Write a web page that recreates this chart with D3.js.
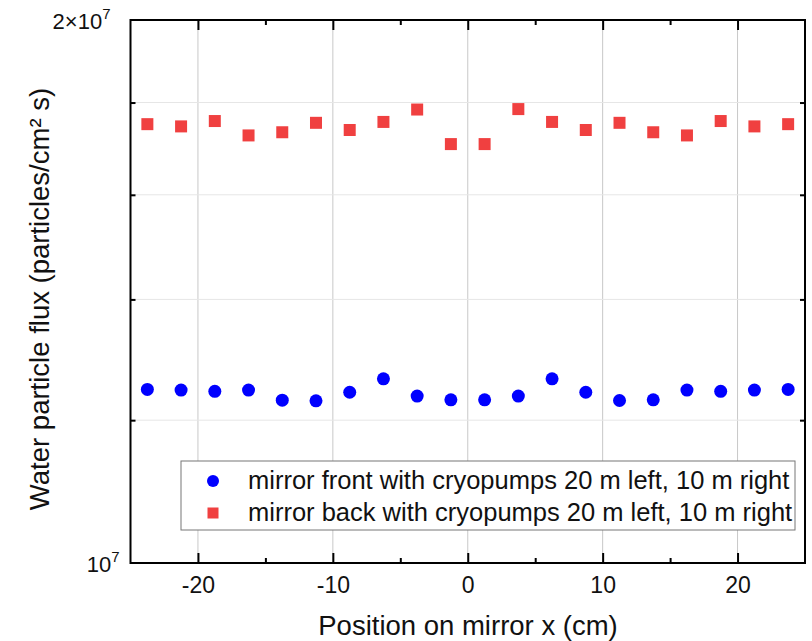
<!DOCTYPE html>
<html><head><meta charset="utf-8">
<script src="https://cdn.jsdelivr.net/npm/d3@7"></script>
<style>body{margin:0;background:#fff}svg{display:block;font-family:"Liberation Sans",Arial,sans-serif}</style>
</head><body>
<svg id="c" width="812" height="641"></svg>
<script>
const positions = [-23.75,-21.25,-18.75,-16.25,-13.75,-11.25,-8.75,-6.25,-3.75,-1.25,1.25,3.75,6.25,8.75,11.25,13.75,16.25,18.75,21.25,23.75];
const frontFlux = [1.248e7,1.247e7,1.245e7,1.247e7,1.231e7,1.230e7,1.2435e7,1.265e7,1.2375e7,1.2315e7,1.2315e7,1.2375e7,1.265e7,1.2435e7,1.2305e7,1.2315e7,1.247e7,1.245e7,1.247e7,1.248e7];
const backFlux = [1.751e7,1.746e7,1.758e7,1.726e7,1.733e7,1.754e7,1.738e7,1.756e7,1.784e7,1.707e7,1.707e7,1.785e7,1.756e7,1.738e7,1.754e7,1.733e7,1.726e7,1.758e7,1.746e7,1.751e7];
const xMajorTicks = [-20,-10,0,10,20];
const xMinorTicks = [-15,-5,5,15];
const yGridTicks = [1.2e7,1.4e7,1.6e7,1.8e7];
const yLabelTicks = [2e7,1e7];
const yLabelMantissa = ["2×10","10"];
const legendLabels = ["mirror front with cryopumps 20 m left, 10 m right","mirror back with cryopumps 20 m left, 10 m right"];
const xTitle = "Position on mirror x (cm)";
const yTitle = "Water particle flux (particles/cm² s)";

const svg = d3.select("#c");
const L=130.5, R=805, T=20, B=563;
const x = d3.scaleLinear().domain([-25,25]).range([L,R]);
const y = d3.scaleLog().domain([1e7,2e7]).range([B,T]);

// grid
svg.append("g").selectAll("line").data(xMajorTicks).join("line")
  .attr("x1",d=>x(d)).attr("x2",d=>x(d)).attr("y1",T).attr("y2",B)
  .attr("stroke","#c8c8c8").attr("stroke-width",1);
svg.append("g").selectAll("line").data(yGridTicks).join("line")
  .attr("x1",L).attr("x2",R).attr("y1",d=>y(d)).attr("y2",d=>y(d))
  .attr("stroke","#e6e6e6").attr("stroke-width",1);

// axes
const axB = svg.append("g").attr("transform",`translate(0,${B})`)
  .call(d3.axisBottom(x).tickValues(xMajorTicks).tickSize(-10).tickPadding(14).tickFormat(d=>d<0?"-"+Math.abs(d):d));
axB.selectAll("text").attr("font-size",23).attr("fill","#111").attr("dy","0.71em").attr("font-family","Liberation Sans, Arial, sans-serif");
const axBm = svg.append("g").attr("transform",`translate(0,${B})`)
  .call(d3.axisBottom(x).tickValues(xMinorTicks).tickSize(-5).tickFormat(""));
const axT = svg.append("g").attr("transform",`translate(0,${T})`)
  .call(d3.axisTop(x).tickValues(xMajorTicks).tickSize(-10).tickFormat(""));
const axTm = svg.append("g").attr("transform",`translate(0,${T})`)
  .call(d3.axisTop(x).tickValues(xMinorTicks).tickSize(-5).tickFormat(""));
const axL = svg.append("g").attr("transform",`translate(${L},0)`)
  .call(d3.axisLeft(y).tickValues(yGridTicks).tickSize(-5).tickFormat(""));
const axR = svg.append("g").attr("transform",`translate(${R},0)`)
  .call(d3.axisRight(y).tickValues(yGridTicks).tickSize(-5).tickFormat(""));
[axB,axBm,axT,axTm,axL,axR].forEach(g=>{
  g.select(".domain").remove();
  g.selectAll(".tick line").attr("stroke","#000").attr("stroke-width",2);
});
// frame
svg.append("rect").attr("x",L).attr("y",T).attr("width",R-L).attr("height",B-T)
  .attr("fill","none").attr("stroke","#000").attr("stroke-width",2);

// y labels
const yLabOffsets = [20, 11];
yLabelTicks.forEach((v,i)=>{
  const t = svg.append("text").attr("x",L-yLabOffsets[i]).attr("y",y(v)+9).attr("text-anchor","end")
    .attr("font-size",22).attr("fill","#111");
  t.append("tspan").text(yLabelMantissa[i]);
  t.append("tspan").attr("font-size",15).attr("dy",-10).text("7");
});

// series
svg.append("g").selectAll("circle").data(positions).join("circle")
  .attr("cx",d=>x(d)).attr("cy",(d,i)=>y(frontFlux[i])).attr("r",6.5).attr("fill","#0000ff");
const s=12;
svg.append("g").selectAll("rect").data(positions).join("rect")
  .attr("x",d=>x(d)-s/2).attr("y",(d,i)=>y(backFlux[i])-s/2).attr("width",s).attr("height",s).attr("fill","#f04040");

// legend
const lg = svg.append("g");
lg.append("rect").attr("x",181).attr("y",461).attr("width",614).attr("height",69)
  .attr("fill","#fff").attr("stroke","#777").attr("stroke-width",1);
lg.append("circle").attr("cx",213).attr("cy",481).attr("r",6).attr("fill","#0000ff");
lg.append("rect").attr("x",207.5).attr("y",507.5).attr("width",11).attr("height",11).attr("fill","#f04040");
legendLabels.forEach((t,i)=>{
  lg.append("text").attr("x",248).attr("y",489+i*32).attr("font-size",25.5).attr("fill","#111").text(t);
});

// titles
svg.append("text").attr("x",468).attr("y",634.5).attr("text-anchor","middle").attr("font-size",27.5).attr("fill","#111").text(xTitle);
svg.append("text").attr("transform","translate(49,299) rotate(-90)").attr("text-anchor","middle").attr("font-size",27.5).attr("fill","#111").text(yTitle);
</script>
</body></html>
